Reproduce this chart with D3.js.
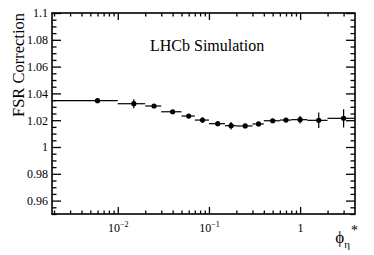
<!DOCTYPE html>
<html>
<head>
<meta charset="utf-8">
<script src="https://cdn.jsdelivr.net/npm/d3@7"></script>
<style>
  body { margin: 0; background: #fff; }
  svg { display: block; }
  text { font-family: "Liberation Serif", "Times New Roman", serif; fill: #000; }
</style>
</head>
<body>
<div id="chart"></div>
<script>
// bin edges in phi*_eta
var binLow  = [0, 0.01, 0.02, 0.03, 0.05, 0.07, 0.10, 0.15, 0.20, 0.30, 0.40, 0.60, 0.80, 1.2, 2.0];
var binHigh = [0.01, 0.02, 0.03, 0.05, 0.07, 0.10, 0.15, 0.20, 0.30, 0.40, 0.60, 0.80, 1.2, 2.0, 4.0];
// marker positions
var binCentre = [0.006, 0.015, 0.025, 0.04, 0.06, 0.085, 0.125, 0.175, 0.25, 0.35, 0.5, 0.7, 1.0, 1.6, 3.0];
var fsrCorr = [1.0346, 1.0323, 1.0306, 1.0263, 1.0231, 1.0201, 1.0174, 1.0159, 1.0157, 1.0172, 1.0196, 1.0201, 1.0204, 1.0199, 1.0214];
var fsrErr  = [0.0008, 0.0033, 0.0012, 0.0012, 0.0012, 0.0022, 0.0015, 0.0028, 0.0012, 0.0012, 0.0012, 0.0012, 0.0028, 0.0058, 0.0068];

var yMajor = [0.96, 0.98, 1.0, 1.02, 1.04, 1.06, 1.08, 1.1];
var yLabels = ["0.96", "0.98", "1", "1.02", "1.04", "1.06", "1.08", "1.1"];
var xMajor = [0.01, 0.1, 1];
var xLabels = [["10", "\u22122"], ["10", "\u22121"], ["1", ""]];

var width = 374, height = 255;
var mLeft = 52, mRight = 355, mTop = 13, mBottom = 214;

var svg = d3.select("#chart").append("svg")
    .attr("width", width)
    .attr("height", height);

var x = d3.scaleLog().domain([0.0019, 4]).range([mLeft, mRight]);
var y = d3.scaleLinear().domain([0.95, 1.1]).range([mBottom, mTop]);

/* minor ticks */
var yMinor = d3.range(0.95, 1.1001, 0.005).filter(v => !yMajor.some(m => Math.abs(m - v) < 1e-6));
var xMinor = [];
[0.001, 0.01, 0.1, 1].forEach(function (dec) {
    for (var k = 2; k <= 9; k++) {
        var v = dec * k;
        if (v > x.domain()[0] && v < x.domain()[1] - 1e-9) xMinor.push(v);
    }
});

function addAxis(axis, tx, ty) {
    var g = svg.append("g")
        .attr("transform", `translate(${tx}, ${ty})`)
        .call(axis);
    g.select(".domain").remove();
    g.selectAll("line").attr("stroke", "#000").attr("stroke-width", 1.3);
    return g;
}

// bottom
var gx = addAxis(d3.axisBottom(x).tickValues(xMajor).tickSizeInner(-7).tickSizeOuter(0).tickPadding(9).tickFormat(""), 0, mBottom);
addAxis(d3.axisBottom(x).tickValues(xMinor).tickSizeInner(-3.5).tickSizeOuter(0).tickFormat(""), 0, mBottom);
// top
addAxis(d3.axisTop(x).tickValues(xMajor).tickSizeInner(-7).tickSizeOuter(0).tickFormat(""), 0, mTop);
addAxis(d3.axisTop(x).tickValues(xMinor).tickSizeInner(-3.5).tickSizeOuter(0).tickFormat(""), 0, mTop);
// left
var gy = addAxis(d3.axisLeft(y).tickValues(yMajor).tickSizeInner(-9).tickSizeOuter(0).tickPadding(4)
    .tickFormat((d, i) => yLabels[i]), mLeft, 0);
addAxis(d3.axisLeft(y).tickValues(yMinor).tickSizeInner(-4.5).tickSizeOuter(0).tickFormat(""), mLeft, 0);
// right
addAxis(d3.axisRight(y).tickValues(yMajor).tickSizeInner(-9).tickSizeOuter(0).tickFormat(""), mRight, 0);
addAxis(d3.axisRight(y).tickValues(yMinor).tickSizeInner(-4.5).tickSizeOuter(0).tickFormat(""), mRight, 0);

gy.selectAll(".tick text")
    .attr("font-size", 12)
    .attr("font-family", "Liberation Serif")
    .attr("fill", "#000");

gx.selectAll(".tick text").each(function (d, i) {
    var t = d3.select(this)
        .attr("font-size", 12)
        .attr("font-family", "Liberation Serif")
        .attr("fill", "#000")
        .attr("dy", "0.71em");
    t.append("tspan").text(xLabels[i][0]);
    if (xLabels[i][1]) {
        t.append("tspan").attr("font-size", 8).attr("dy", -5).text(xLabels[i][1]);
    }
});

/* frame */
svg.append("rect")
    .attr("x", mLeft).attr("y", mTop)
    .attr("width", mRight - mLeft).attr("height", mBottom - mTop)
    .attr("fill", "none")
    .attr("stroke", "#000")
    .attr("stroke-width", 1.6);

/* data */
var pts = binCentre.map((c, i) => ({
    c: c, lo: Math.max(binLow[i], x.domain()[0]), hi: binHigh[i], v: fsrCorr[i], e: fsrErr[i]
}));

var marks = svg.append("g").attr("class", "points");

marks.selectAll(".hbar").data(pts).enter().append("line")
    .attr("x1", d => x(d.lo)).attr("x2", d => x(d.hi))
    .attr("y1", d => y(d.v)).attr("y2", d => y(d.v))
    .attr("stroke", "#000").attr("stroke-width", 1.2);

marks.selectAll(".vbar").data(pts).enter().append("line")
    .attr("x1", d => x(d.c)).attr("x2", d => x(d.c))
    .attr("y1", d => y(d.v - d.e)).attr("y2", d => y(d.v + d.e))
    .attr("stroke", "#000").attr("stroke-width", 1.2);

marks.selectAll("circle").data(pts).enter().append("circle")
    .attr("cx", d => x(d.c)).attr("cy", d => y(d.v))
    .attr("r", 2.6)
    .attr("fill", "#000");

/* labels */
svg.append("text")
    .attr("x", 150).attr("y", 51)
    .attr("font-size", 16)
    .text("LHCb Simulation");

svg.append("text")
    .attr("transform", `translate(24, 13) rotate(-90)`)
    .attr("text-anchor", "end")
    .attr("font-size", 16.5)
    .text("FSR Correction");

var xt = svg.append("text")
    .attr("x", 358).attr("y", 243)
    .attr("text-anchor", "end")
    .attr("font-size", 17);
xt.append("tspan").text("\u03D5");
xt.append("tspan").attr("font-size", 11).attr("dy", 5).text("\u03B7");
xt.append("tspan").attr("font-size", 14).attr("dy", -13).attr("dx", 1).text("*");
</script>
</body>
</html>
